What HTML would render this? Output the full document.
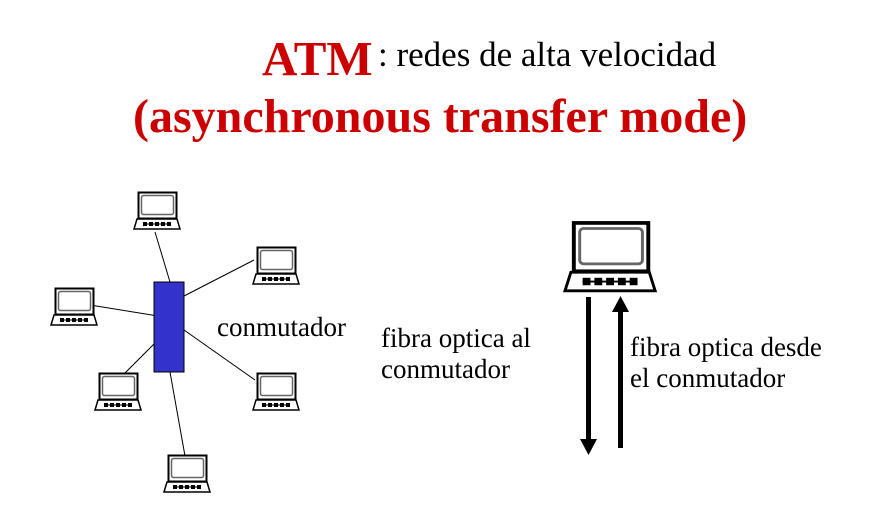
<!DOCTYPE html>
<html><head><style>
body{margin:0;background:#fff;width:875px;height:526px;overflow:hidden;position:relative;font-family:"Liberation Serif",serif}
.t{position:absolute;white-space:nowrap}
</style></head><body>
<div class="t" style="left:262px;top:30px;font-size:49px;font-weight:bold;color:#cc0000">ATM</div>
<div class="t" style="left:378px;top:35px;font-size:35px;color:#000">: redes de alta velocidad</div>
<div class="t" style="left:133px;top:89px;font-size:48px;font-weight:bold;color:#cc0000">(asynchronous transfer mode)</div>
<div class="t" style="left:217px;top:312px;font-size:27px">conmutador</div>
<div class="t" style="left:381px;top:323px;font-size:27px;line-height:31px">fibra optica al<br>conmutador</div>
<div class="t" style="left:630px;top:332px;font-size:27px;line-height:31px">fibra optica desde<br>el conmutador</div>
<svg width="875" height="526" style="position:absolute;left:0;top:0">
<defs>
<g id="lp">
<rect x="4.5" y="0.5" width="38" height="26" fill="#fff" stroke="#000" stroke-width="2"/>
<rect x="7.5" y="3.5" width="32" height="19" rx="2" fill="#fff" stroke="#666" stroke-width="1.5"/>
<path d="M3 27 H43 L46 37 H0 Z" fill="#fff" stroke="#000" stroke-width="1.5"/>
<line x1="9" y1="32" x2="37" y2="32" stroke="#000" stroke-width="1"/>
<g fill="#000"><rect x="9" y="30" width="4" height="4"/><rect x="15" y="30" width="4" height="4"/><rect x="21" y="30" width="4" height="4"/><rect x="27" y="30" width="4" height="4"/><rect x="33" y="30" width="4" height="4"/></g>
</g>
</defs>
<g stroke="#000" stroke-width="1">
<line x1="155" y1="232" x2="170" y2="282"/>
<line x1="184" y1="296" x2="254" y2="260"/>
<line x1="90" y1="305" x2="158" y2="316"/>
<line x1="155" y1="343" x2="125" y2="373"/>
<line x1="184" y1="330" x2="255" y2="380"/>
<line x1="170" y1="372" x2="185" y2="456"/>
</g>
<rect x="154" y="282" width="30" height="90" fill="#3333cc" stroke="#000" stroke-width="1"/>
<use href="#lp" x="134" y="192"/>
<use href="#lp" x="253" y="247"/>
<use href="#lp" x="51" y="288"/>
<use href="#lp" x="95" y="373"/>
<use href="#lp" x="253" y="373"/>
<use href="#lp" x="164" y="455"/>
<use href="#lp" transform="translate(565,222) scale(1.96,1.86)"/>
<rect x="586" y="297" width="5" height="142" fill="#000"/>
<path d="M580 439 H597 L588.5 455 Z" fill="#000"/>
<rect x="618" y="311" width="5" height="137" fill="#000"/>
<path d="M612 312 H629 L620.5 296 Z" fill="#000"/>
</svg>
</body></html>
